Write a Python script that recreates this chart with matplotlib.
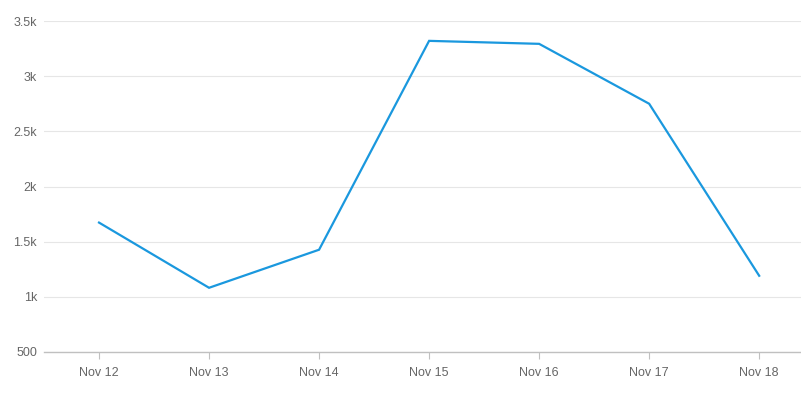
import matplotlib.pyplot as plt

days = ["Nov 12", "Nov 13", "Nov 14", "Nov 15", "Nov 16", "Nov 17", "Nov 18"]
values = [1673, 1082, 1427, 3320, 3293, 2750, 1191]
yticks = [500, 1000, 1500, 2000, 2500, 3000, 3500]
ylabels = ["500", "1k", "1.5k", "2k", "2.5k", "3k", "3.5k"]

plt.rcParams['font.family'] = ['Liberation Sans', 'DejaVu Sans']

fig = plt.figure(figsize=(8.01, 4.07), dpi=100)
ax = fig.add_axes([44/801, 55/407, 757/801, 331/407])

x = list(range(len(days)))
ax.plot(x, values, color='#1a98de', lw=1.6, solid_joinstyle='miter', zorder=3)

ax.set_xlim(-0.5, 6.38)
ax.set_ylim(500, 3500)
ax.set_xticks(x)
ax.set_xticklabels(days)
ax.set_yticks(yticks)
ax.set_yticklabels(ylabels)

ax.grid(axis='y', color='#e6e6e6', lw=0.8)
ax.set_axisbelow(True)
for s in ['top', 'right', 'left']:
    ax.spines[s].set_visible(False)
ax.spines['bottom'].set_color('#c0c0c0')
ax.spines['bottom'].set_linewidth(1.0)

ax.tick_params(axis='x', length=5, color='#c0c0c0', labelcolor='#666666', labelsize=9, pad=6)
ax.tick_params(axis='y', length=0, labelcolor='#666666', labelsize=9, pad=5)

fig.savefig('out.png', dpi=100, facecolor='white')
